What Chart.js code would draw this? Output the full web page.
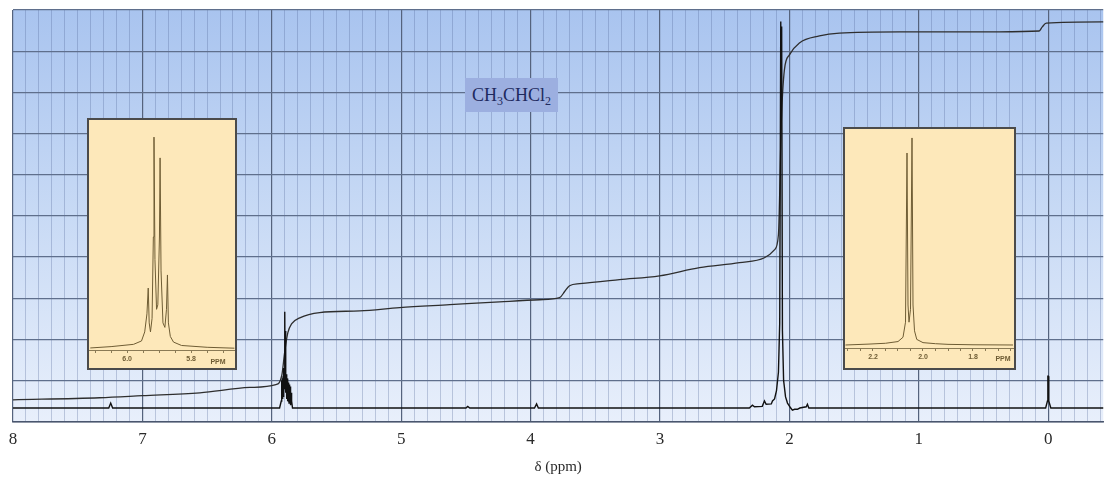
<!DOCTYPE html>
<html>
<head>
<meta charset="utf-8">
<script src="https://cdn.jsdelivr.net/npm/chart.js@4.4.0/dist/chart.umd.min.js"></script>
<style>
  html, body { margin: 0; padding: 0; background: #fff; }
  #wrap { position: relative; width: 1104px; height: 477px; overflow: hidden; }
  #main { position: absolute; left: 0; top: 0; }
  .inset { position: absolute; box-sizing: border-box; border: 2px solid #4b4b4b; background: #fde8ba; }
  .inset canvas { position: absolute; left: 0; top: 0; }
  .ppm { position: absolute; font: bold 7px "Liberation Sans", sans-serif; color: #6e5c34; transform: translate(-50%, -50%); }
  #formula { position: absolute; left: 465px; top: 78px; width: 93px; height: 34px; background: #9cafe0;
    font: 18px "Liberation Serif", serif; color: #1e2a5e; text-align: center; line-height: 34px; }
  #formula sub { font-size: 12px; vertical-align: -4px; line-height: 0; }
</style>
</head>
<body>
<div id="wrap">
  <canvas id="main" width="1108" height="477"></canvas>
  <div id="formula">CH<sub>3</sub>CHCl<sub>2</sub></div>
  <div class="inset" style="left:87px; top:118px; width:150px; height:252px;">
    <canvas id="inset1" width="146" height="248"></canvas>
  </div>
  <span class="ppm" style="left:218px; top:361px;">PPM</span>
  <div class="inset" style="left:843px; top:127px; width:173px; height:243px;">
    <canvas id="inset2" width="169" height="239"></canvas>
  </div>
  <span class="ppm" style="left:1003px; top:358px;">PPM</span>
</div>
<script>
// main spectrum, chemical shift (ppm) and intensity in grid units
var spectrumPpm = [8.0, 7.26, 7.245, 7.23, 5.94, 5.927, 5.925, 5.922, 5.919, 5.916, 5.913, 5.910, 5.907, 5.904,
  5.900, 5.897, 5.894, 5.891, 5.888, 5.885, 5.882, 5.879, 5.876, 5.873, 5.870, 5.867, 5.864, 5.861, 5.858,
  5.855, 5.851, 5.847, 5.84, 4.50, 4.486, 4.47, 3.97, 3.954, 3.94,
  2.31, 2.286, 2.27, 2.21, 2.193, 2.18, 2.14, 2.131, 2.115, 2.10, 2.085, 2.075, 2.067, 2.064, 2.060, 2.054,
  2.045, 2.03, 2.015, 1.99, 1.977, 1.96, 1.938, 1.92, 1.87, 1.861, 1.85, 0.02, 0.006, 0.003, -0.001, -0.004,
  -0.02, -0.45];
var spectrumInt = [0.33, 0.33, 0.45, 0.33, 0.33, 0.5, 1.0, 0.5, 1.05, 0.55, 1.1, 0.6, 1.3, 0.8,
  2.67, 1.0, 2.2, 0.7, 1.15, 0.55, 1.05, 0.5, 1.0, 0.5, 0.95, 0.45, 0.9, 0.45, 0.85,
  0.4, 0.7, 0.5, 0.33, 0.33, 0.37, 0.33, 0.33, 0.43, 0.33,
  0.33, 0.4, 0.36, 0.37, 0.5, 0.42, 0.43, 0.5, 0.55, 0.75, 1.2, 2.4, 9.72, 8.0, 9.6, 2.2,
  1.0, 0.6, 0.45, 0.33, 0.28, 0.3, 0.3, 0.33, 0.36, 0.42, 0.33, 0.33, 0.5, 1.1, 1.1, 0.5,
  0.33, 0.33];

// integral trace
var integralPpm = [8.0, 7.33, 7.0, 6.556, 6.17, 5.969, 5.923, 5.90, 5.876, 5.846, 5.784, 5.63, 5.32, 5.012,
  4.625, 4.24, 3.93, 3.776, 3.737, 3.699, 3.62, 3.313, 3.004, 2.695, 2.386, 2.193, 2.116, 2.085, 2.062,
  2.039, 2.0, 1.923, 1.768, 1.614, 1.15, 0.378, 0.07, 0.046, 0.015, -0.45];
var integralVal = [0.53, 0.58, 0.63, 0.70, 0.83, 0.90, 1.12, 1.70, 2.16, 2.38, 2.52, 2.65, 2.69, 2.77,
  2.84, 2.91, 2.96, 3.01, 3.16, 3.30, 3.35, 3.45, 3.54, 3.74, 3.86, 3.98, 4.17, 4.54, 7.33,
  8.54, 8.91, 9.2, 9.37, 9.44, 9.47, 9.47, 9.49, 9.59, 9.68, 9.71];

// inset 1: CH quartet expansion
var inset1Ppm = [6.115, 6.05, 5.98, 5.955, 5.945, 5.938, 5.934, 5.931, 5.927, 5.922, 5.918, 5.916, 5.913,
  5.908, 5.904, 5.899, 5.897, 5.894, 5.888, 5.882, 5.877, 5.874, 5.871, 5.865, 5.855, 5.83, 5.75, 5.665];
var inset1Int = [0.9, 1.5, 2.5, 4, 8, 16, 27.4, 12, 8, 14, 50, 94.2, 40,
  18, 20, 50, 85, 35, 12, 10, 18, 33.2, 12, 6, 3.5, 2, 1.2, 0.8];

// inset 2: CH3 doublet expansion
var inset2Ppm = [2.31, 2.22, 2.15, 2.10, 2.08, 2.07, 2.064, 2.060, 2.056, 2.050, 2.044, 2.040, 2.034,
  2.025, 2.0, 1.95, 1.90, 1.80, 1.64];
var inset2Int = [1.4, 1.8, 2.2, 3, 5, 12, 90.7, 20, 12, 18, 97.7, 20, 8,
  4, 2.5, 2, 1.7, 1.5, 1.4];

var xTitle = 'δ (ppm)';

function pairs(xs, ys) {
  return xs.map(function(x, i) { return {x: x, y: ys[i]}; });
}

function isWhole(v) {
  return Math.abs(v - Math.round(v)) < 1e-6;
}

var bgPlugin = {
  id: 'bg',
  beforeDraw: function(chart) {
    var a = chart.chartArea, ctx = chart.ctx;
    var g = ctx.createLinearGradient(0, a.top, 0, a.bottom);
    g.addColorStop(0, '#a9c4ef');
    g.addColorStop(0.5, '#c8daf5');
    g.addColorStop(1, '#e8effb');
    ctx.save();
    ctx.fillStyle = g;
    ctx.fillRect(a.left, a.top, a.right - a.left, a.bottom - a.top);
    ctx.restore();
  }
};

new Chart(document.getElementById('main'), {
  type: 'line',
  data: {
    datasets: [{
      label: 'spectrum',
      data: pairs(spectrumPpm, spectrumInt),
      borderColor: '#111',
      borderWidth: 1.4,
      pointRadius: 0,
      tension: 0
    }, {
      label: 'integral',
      data: pairs(integralPpm, integralVal),
      borderColor: '#2e2e2e',
      borderWidth: 1.3,
      pointRadius: 0,
      cubicInterpolationMode: 'monotone'
    }]
  },
  options: {
    responsive: false,
    animation: false,
    layout: { padding: { left: 13, top: 10, right: 0, bottom: 0 } },
    plugins: { legend: { display: false }, tooltip: { enabled: false } },
    scales: {
      x: {
        type: 'linear',
        reverse: true,
        min: -0.425,
        max: 8,
        ticks: {
          stepSize: 0.1,
          autoSkip: false,
          includeBounds: false,
          maxRotation: 0,
          padding: 8,
          color: '#2a2a2a',
          font: { family: 'Liberation Serif', size: 17 },
          callback: function(v) { return isWhole(v) ? String(Math.round(v)) : ''; }
        },
        grid: {
          drawTicks: false,
          color: function(c) { return isWhole(c.tick.value) ? '#55637d' : 'rgba(80,100,150,0.3)'; },
          lineWidth: function(c) { return isWhole(c.tick.value) ? 1.2 : 1; }
        },
        border: { display: true, color: '#4a566e', width: 1.5 },
        title: {
          display: true,
          text: xTitle,
          color: '#2a2a2a',
          font: { family: 'Liberation Serif', size: 15 },
          padding: { top: 0, bottom: 1 }
        }
      },
      y: {
        min: 0,
        max: 10,
        ticks: { display: false, stepSize: 1 },
        grid: { drawTicks: false, color: '#5f6f8c', lineWidth: 1.2 },
        border: { display: false }
      }
    }
  },
  plugins: [bgPlugin]
});

function insetChart(id, ppm, vals, minX, maxX, padBottom) {
  return new Chart(document.getElementById(id), {
    type: 'line',
    data: {
      datasets: [{
        data: pairs(ppm, vals),
        borderColor: '#6e5c34',
        borderWidth: 1,
        pointRadius: 0,
        tension: 0
      }]
    },
    options: {
      responsive: false,
      animation: false,
      layout: { padding: { left: 0, right: 0, top: 4, bottom: padBottom } },
      plugins: { legend: { display: false }, tooltip: { enabled: false } },
      scales: {
        x: {
          type: 'linear',
          reverse: true,
          min: minX,
          max: maxX,
          ticks: {
            stepSize: 0.05,
            autoSkip: false,
            includeBounds: false,
            maxRotation: 0,
            padding: 2,
            color: '#6e5c34',
            font: { family: 'Liberation Sans', size: 7, weight: 'bold' },
            callback: function(v) { return isWhole(v * 5) ? v.toFixed(1) : ''; }
          },
          grid: { drawOnChartArea: false, drawTicks: true, tickLength: 3, color: '#8a7a55' },
          border: { display: true, color: '#8a7a55', width: 1 }
        },
        y: { display: false, min: 0, max: 100 }
      }
    }
  });
}

insetChart('inset1', inset1Ppm, inset1Int, 5.663, 6.119, 2.6);
insetChart('inset2', inset2Ppm, inset2Int, 1.636, 2.312, 4.6);
</script>
</body>
</html>
